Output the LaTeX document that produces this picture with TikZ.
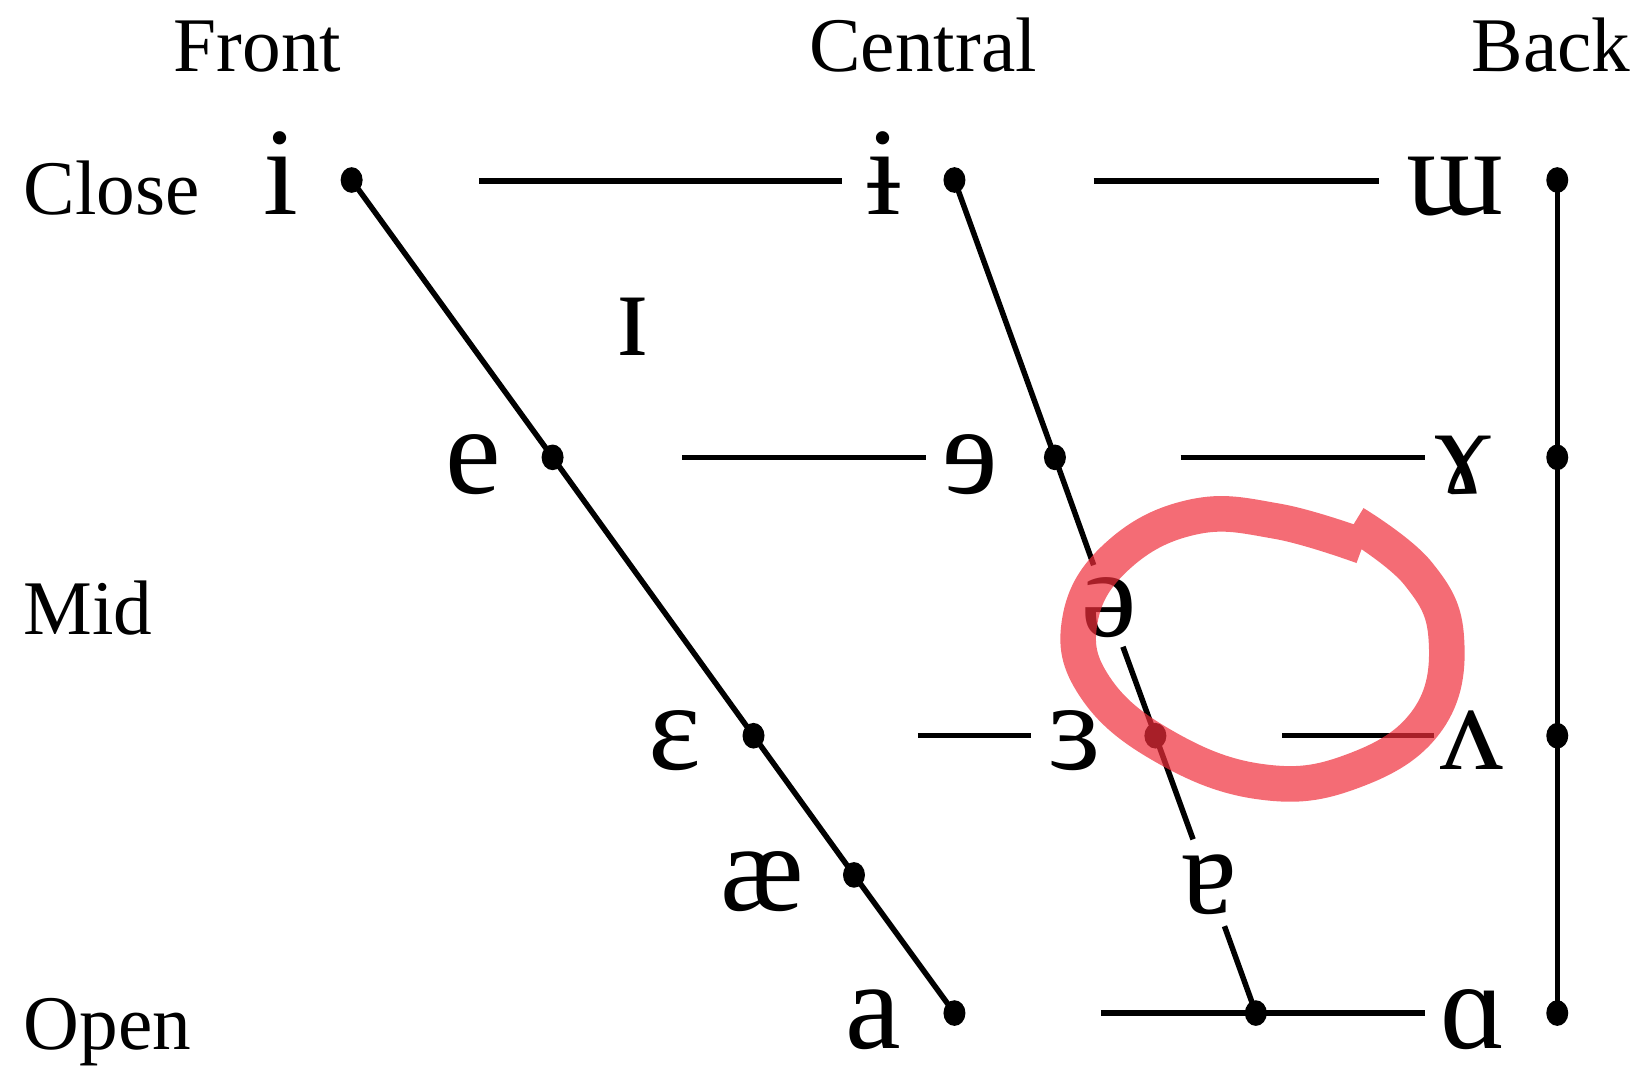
\documentclass[tikz,border=0pt]{standalone}
\usepackage{fontspec}
\setmainfont{Liberation Serif}
\usetikzlibrary{shapes.geometric,calc}
\definecolor{pen}{RGB}{240,45,58}
\begin{document}
\begin{tikzpicture}[x=0.01cm,y=-0.01cm,
  lbl/.style={font=\fontsize{21}{24}\selectfont, inner sep=0pt, anchor=base},
  vow/.style={font=\fontsize{34}{40}\selectfont, inner sep=0pt, anchor=base},
  dotnode/.style={ellipse, fill=black, inner sep=0pt, minimum width=0.21cm, minimum height=0.245cm},
  ln/.style={line width=1.5pt},
  redpen/.style={draw=pen, draw opacity=0.7, line width=0.34cm, line cap=butt, line join=round}
]
\useasboundingbox (0,0) rectangle (1568,1024);

% axis labels
\node[lbl] (front) at (246,68) {Front};
\node[lbl] (central) at (882,68) {Central};
\node[lbl] (back) at (1482,68) {Back};
\node[lbl, anchor=base west] (close) at (22,205) {Close};
\node[lbl, anchor=base west] (mid) at (22,606) {Mid};
\node[lbl, anchor=base west] (open) at (22,1003) {Open};

% vowel symbols
\node[vow] (vI) at (268,205) {i};
\node[vow] (vIbar) at (845,205) {ɨ};
\node[vow] (vUu) at (1390,205) {ɯ};
\node[vow] (vIsm) at (605,340) {ɪ};
\node[vow] (vE) at (452,472) {e};
\node[vow] (vErev) at (927,472) {ɘ};
\node[vow] (vGam) at (1398,472) {ɤ};
\node[vow] (vSchwa) at (1060,608) {ə};
\node[vow] (vEps) at (645,735) {ɛ};
\node[vow] (vRevEps) at (1027,735) {ɜ};
\node[vow] (vV) at (1406,735) {ʌ};
\node[vow] (vAe) at (728,870) {æ};
\node[vow] (vTurnA) at (1155,873) {ɐ};
\node[vow] (vA) at (834,1002) {a};
\node[vow] (vAlpha) at (1408,1002) {ɑ};

% dots
\node[dotnode] (dI) at (336,172) {};
\node[dotnode] (dIbar) at (912,172) {};
\node[dotnode] (dUu) at (1488,172) {};
\node[dotnode] (dE) at (528,437) {};
\node[dotnode] (dErev) at (1008,437) {};
\node[dotnode] (dGam) at (1488,437) {};
\node[dotnode] (dEps) at (720,703) {};
\node[dotnode] (dRevEps) at (1104,703) {};
\node[dotnode] (dV) at (1488,703) {};
\node[dotnode] (dAe) at (816,836) {};
\node[dotnode] (dA) at (912,968) {};
\node[dotnode] (dCO) at (1200,968) {};
\node[dotnode] (dAlpha) at (1488,968) {};

% gap ends on the central line
\coordinate (g1) at (1045,540);
\coordinate (g2) at (1073,618);
\coordinate (g3) at (1140,802);
\coordinate (g4) at (1170,885);

% horizontal line ends
\coordinate (h1a) at (458,173);  \coordinate (h1b) at (805,173);
\coordinate (h2a) at (1045,173); \coordinate (h2b) at (1318,173);
\coordinate (h3a) at (652,437);  \coordinate (h3b) at (885,437);
\coordinate (h4a) at (1128,437); \coordinate (h4b) at (1362,437);
\coordinate (h5a) at (877,703);  \coordinate (h5b) at (985,703);
\coordinate (h6a) at (1225,703); \coordinate (h6b) at (1370,703);
\coordinate (h7a) at (1052,968); \coordinate (h7b) at (1362,968);

% front line
\draw[ln] (dI.center) -- (dE.center) -- (dEps.center) -- (dAe.center) -- (dA.center);
% central line
\draw[ln] (dIbar.center) -- (dErev.center) -- (g1);
\draw[ln] (g2) -- (dRevEps.center) -- (g3);
\draw[ln] (g4) -- (dCO.center);
% back line
\draw[ln] (dUu.center) -- (dGam.center) -- (dV.center) -- (dAlpha.center);
% horizontals
\draw[ln] (h1a) -- (h1b);
\draw[ln] (h2a) -- (h2b);
\draw[ln] (h3a) -- (h3b);
\draw[ln] (h4a) -- (h4b);
\draw[ln] (h5a) -- (h5b);
\draw[ln] (h6a) -- (h6b);
\draw[ln] (h7a) -- (dCO.center) -- (h7b);

% red hand-drawn loop
\draw[redpen] plot[smooth, tension=0.7] coordinates {
  (1294,500) (1355,548) (1382,610) (1364,688) (1292,737) (1205,747)
  (1112,713) (1046,656) (1032,592) (1068,531) (1140,494) (1220,498)
  (1302,522)};
\end{tikzpicture}
\end{document}
